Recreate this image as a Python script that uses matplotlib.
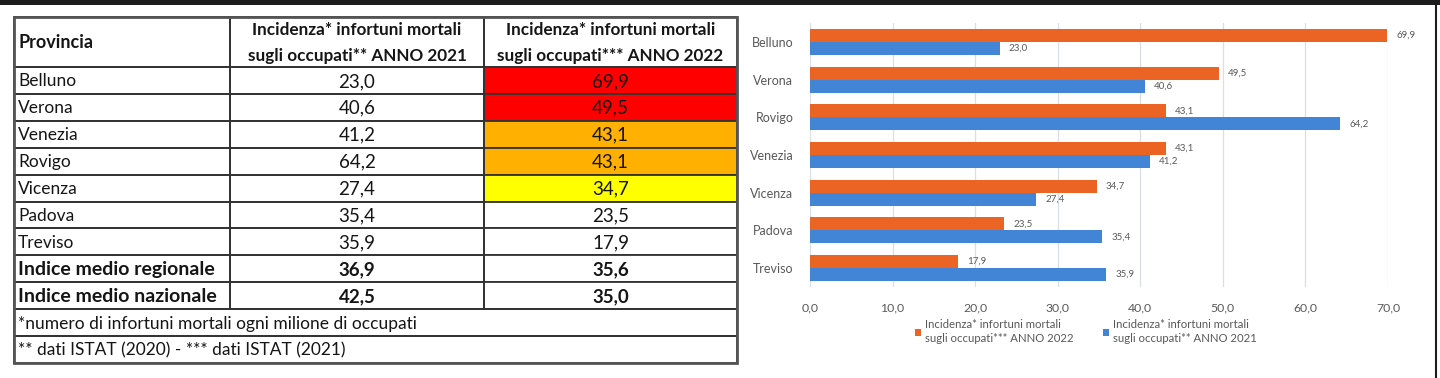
import matplotlib.pyplot as plt
from matplotlib.patches import Rectangle
from matplotlib.lines import Line2D

# dati
province_tab = ["Belluno", "Verona", "Venezia", "Rovigo", "Vicenza", "Padova", "Treviso"]
anno2021_tab = ["23,0", "40,6", "41,2", "64,2", "27,4", "35,4", "35,9"]
anno2022_tab = ["69,9", "49,5", "43,1", "43,1", "34,7", "23,5", "17,9"]
colori2022 = ["#FF0000", "#FF0000", "#FFB000", "#FFB000", "#FFFF00", "white", "white"]
medie_nomi = ["Indice medio regionale", "Indice medio nazionale"]
medie_2021 = ["36,9", "42,5"]
medie_2022 = ["35,6", "35,0"]
note = ["*numero di infortuni mortali ogni milione di occupati",
        "** dati ISTAT (2020) - *** dati ISTAT (2021)"]
intestazione = ["Provincia",
                "Incidenza* infortuni mortali\nsugli occupati** ANNO 2021",
                "Incidenza* infortuni mortali\nsugli occupati*** ANNO 2022"]

province_graf = ["Belluno", "Verona", "Rovigo", "Venezia", "Vicenza", "Padova", "Treviso"]
val_2022 = [69.9, 49.5, 43.1, 43.1, 34.7, 23.5, 17.9]
val_2021 = [23.0, 40.6, 64.2, 41.2, 27.4, 35.4, 35.9]
x_ticks = [0, 10, 20, 30, 40, 50, 60, 70]
leg_2022 = "Incidenza* infortuni mortali\nsugli occupati*** ANNO 2022"
leg_2021 = "Incidenza* infortuni mortali\nsugli occupati** ANNO 2021"

ARANCIO = "#EB6423"
BLU = "#4285D6"
GRIGIO = "#595959"
FONT = "Lato"
TESTO = "#151515"

W, H = 1440, 378
fig = plt.figure(figsize=(W / 100, H / 100), dpi=100)
fig.patch.set_facecolor("white")

# livello in pixel per la tabella e la cornice
base = fig.add_axes([0, 0, 1, 1])
base.set_xlim(0, W)
base.set_ylim(H, 0)
base.axis("off")

base.add_patch(Rectangle((0, 0), W, 5, color="#1c1c1c", lw=0))
base.add_line(Line2D([1436, 1436], [0, H], color="#1c1c1c", lw=1.5))

# tabella
x0, x1, x2, x3 = 14, 230, 484, 737
y_top, y_head = 17, 67
row_h = 26.9
ec = "#333333"

righe = len(province_tab) + len(medie_nomi)
y = y_head
for i in range(righe):
    if i < len(province_tab):
        nome, v1, v2, c2 = province_tab[i], anno2021_tab[i], anno2022_tab[i], colori2022[i]
        peso = "normal"
    else:
        j = i - len(province_tab)
        nome, v1, v2, c2 = medie_nomi[j], medie_2021[j], medie_2022[j], "white"
        peso = "bold"
    base.add_patch(Rectangle((x2, y), x3 - x2, row_h, facecolor=c2, edgecolor=ec, lw=1.3))
    base.add_patch(Rectangle((x0, y), x1 - x0, row_h, facecolor="none", edgecolor=ec, lw=1.3))
    base.add_patch(Rectangle((x1, y), x2 - x1, row_h, facecolor="none", edgecolor=ec, lw=1.3))
    yc = y + row_h / 2 + 1
    base.text(x0 + 4, yc, nome, fontsize=14 if peso == "bold" else 12.5, fontweight=peso,
              family=FONT, color=TESTO, va="center", ha="left")
    base.text((x1 + x2) / 2, yc, v1, fontsize=13.5, fontweight=peso, family=FONT,
              color=TESTO, va="center", ha="center")
    base.text((x2 + x3) / 2, yc, v2, fontsize=13.5, fontweight=peso, family=FONT,
              color=TESTO, va="center", ha="center")
    y += row_h

for nota in note:
    base.add_patch(Rectangle((x0, y), x3 - x0, row_h, facecolor="none", edgecolor=ec, lw=1.3))
    base.text(x0 + 4, y + row_h / 2 + 1, nota, fontsize=12.5, family=FONT,
              color=TESTO, va="center", ha="left")
    y += row_h

# intestazione
for xa, xb in [(x0, x1), (x1, x2), (x2, x3)]:
    base.add_patch(Rectangle((xa, y_top), xb - xa, y_head - y_top,
                             facecolor="none", edgecolor=ec, lw=1.3))
base.text(x0 + 4, (y_top + y_head) / 2 + 1, intestazione[0], fontsize=13,
          fontweight="bold", family=FONT, color=TESTO, va="center", ha="left")
for k, (xa, xb) in enumerate([(x1, x2), (x2, x3)]):
    base.text((xa + xb) / 2, (y_top + y_head) / 2 + 1, intestazione[k + 1],
              fontsize=12.3, fontweight="bold", family=FONT, color=TESTO,
              va="center", ha="center", linespacing=1.78)

base.add_patch(Rectangle((x0, y_top), x3 - x0, y - y_top, facecolor="none",
                         edgecolor="#555555", lw=2))

# grafico a barre
ax = fig.add_axes([810 / W, 1 - 287 / H, (1388 - 810) / W, (287 - 23) / H])
pos = list(range(len(province_graf)))
h = 0.345
ax.barh([p - h / 2 for p in pos], val_2022, height=h, color=ARANCIO, label=leg_2022, zorder=3)
ax.barh([p + h / 2 for p in pos], val_2021, height=h, color=BLU, label=leg_2021, zorder=3)

for p, v in zip(pos, val_2022):
    ax.text(v + 1.1, p - h / 2, f"{v:.1f}".replace(".", ","), fontsize=7,
            color=GRIGIO, va="center", ha="left", family=FONT)
for p, v in zip(pos, val_2021):
    ax.text(v + 1.1, p + h / 2, f"{v:.1f}".replace(".", ","), fontsize=7,
            color=GRIGIO, va="center", ha="left", family=FONT)

ax.set_xlim(0, 70)
ax.set_ylim(len(province_graf) - 0.5, -0.5)
ax.set_yticks(pos)
ax.set_yticklabels(province_graf, fontsize=9, color=GRIGIO, family=FONT)
ax.set_xticks(x_ticks)
ax.set_xticklabels([f"{t:.1f}".replace(".", ",") for t in x_ticks],
                   fontsize=8.8, color=GRIGIO, family=FONT)
ax.tick_params(axis="x", length=0, pad=11)
ax.tick_params(axis="y", length=0, pad=12)
ax.grid(axis="x", color="#D9DEE8", lw=0.9, zorder=0)
for s in ax.spines.values():
    s.set_visible(False)

fig.legend(loc="upper center", bbox_to_anchor=(1086 / W, 1 - 309 / H), ncol=2,
           frameon=False, labelcolor=GRIGIO, handlelength=0.55,
           handleheight=0.55, handletextpad=0.35, columnspacing=2.6,
           prop={"family": FONT, "size": 8.2})
for t in fig.legends[0].get_texts():
    t.set_linespacing(1.35)

fig.savefig("out.png", dpi=100, facecolor="white")
